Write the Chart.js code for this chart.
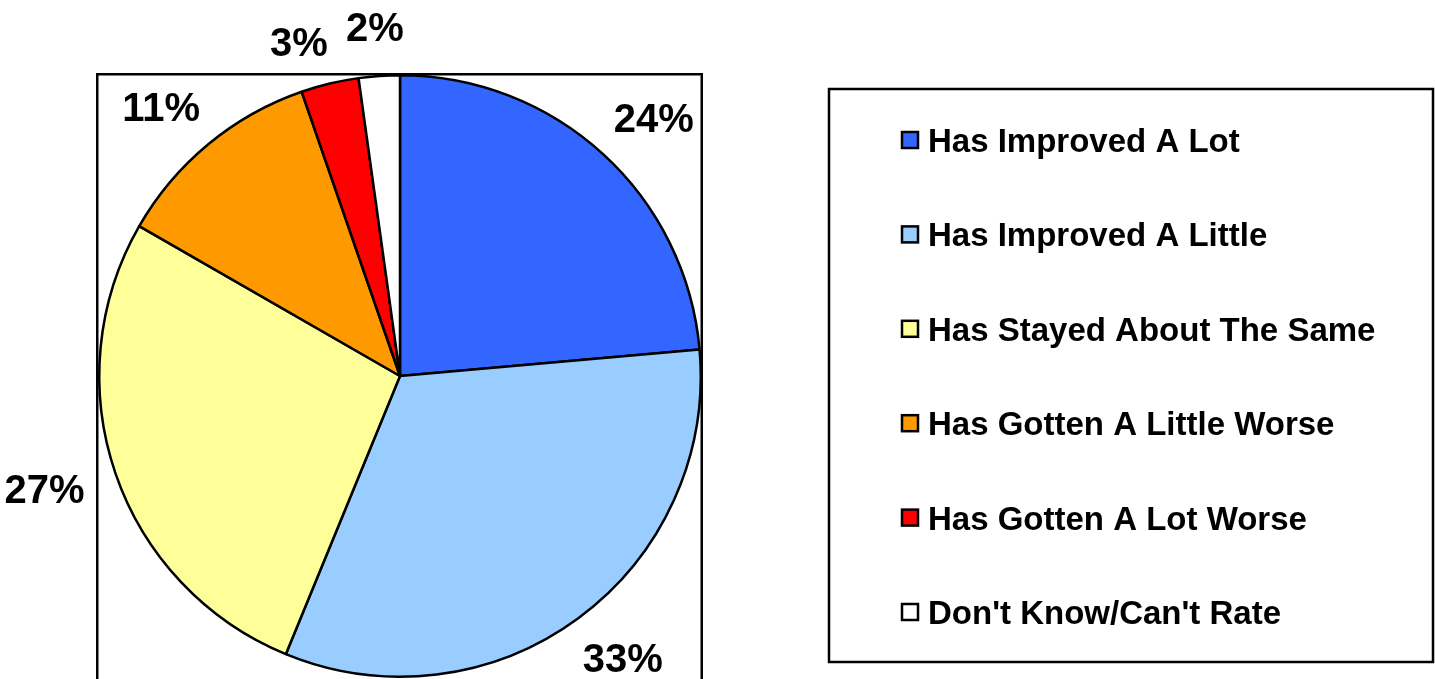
<!DOCTYPE html>
<html>
<head>
<meta charset="utf-8">
<script src="https://cdn.jsdelivr.net/npm/chart.js@4"></script>
<style>
  html, body { margin: 0; padding: 0; background: #ffffff; }
  #wrap { width: 1435px; height: 679px; position: relative; }
</style>
</head>
<body>
<div id="wrap"><canvas id="c" width="1435" height="679"></canvas></div>
<script>
const categories = [
  "Has Improved A Lot",
  "Has Improved A Little",
  "Has Stayed About The Same",
  "Has Gotten A Little Worse",
  "Has Gotten A Lot Worse",
  "Don't Know/Can't Rate"
];
const shares = [23.6, 32.6, 27.1, 11.4, 3.1, 2.2];
const sliceColors = ["#3366FF", "#99CCFF", "#FFFF99", "#FF9900", "#FF0000", "#FFFFFF"];

const FONT = "'Liberation Sans', Arial, sans-serif";

const framePlugin = {
  id: 'frame',
  beforeDatasetsDraw(chart) {
    const ctx = chart.ctx;
    const meta = chart.getDatasetMeta(0);
    const arc = meta.data[0];
    const cx = arc.x, cy = arc.y, r = arc.outerRadius;
    ctx.save();
    ctx.strokeStyle = '#000';
    ctx.lineWidth = 2.5;
    ctx.strokeRect(cx - r - 2, cy - r - 1, 2 * r + 3, 2 * r + 40);
    ctx.restore();
  },
  afterDraw(chart) {
    const ctx = chart.ctx;
    const meta = chart.getDatasetMeta(0);
    ctx.save();
    // percentage labels
    ctx.font = "bold 40px " + FONT;
    ctx.fillStyle = '#000';
    ctx.textAlign = 'center';
    ctx.textBaseline = 'alphabetic';
    const capH = 28;
    const boxes = meta.data.map((arc, i) => {
      const mid = (arc.startAngle + arc.endAngle) / 2;
      const dx = Math.cos(mid), dy = Math.sin(mid);
      const txt = Math.round(shares[i]) + '%';
      const w = ctx.measureText(txt).width;
      const dist = arc.outerRadius + 35;
      return {
        txt, w,
        x: arc.x + dist * dx + dx * w / 2,
        y: arc.y + dist * dy + dy * capH / 2
      };
    });
    // simple collision avoidance: push an earlier label left of the next one
    for (let i = boxes.length - 2; i >= 0; i--) {
      const a = boxes[i], b = boxes[i + 1];
      const vOverlap = Math.abs(a.y - b.y) < capH + 4;
      const gap = 18;
      if (vOverlap && a.x + a.w / 2 > b.x - b.w / 2 - gap && a.x < b.x) {
        a.x = b.x - b.w / 2 - gap - a.w / 2;
        a.y += 6;
      }
    }
    boxes.forEach(b => ctx.fillText(b.txt, b.x, b.y + capH / 2));
    // legend box
    const lx = 829, ly = 89, lw = 604, lh = 573;
    ctx.lineWidth = 2.5;
    ctx.strokeStyle = '#000';
    ctx.strokeRect(lx, ly, lw, lh);
    ctx.font = "bold 33px " + FONT;
    ctx.textAlign = 'left';
    ctx.textBaseline = 'alphabetic';
    const rowStart = 140, rowStep = 94.4;
    categories.forEach((name, i) => {
      const yc = rowStart + i * rowStep;
      ctx.fillStyle = sliceColors[i];
      ctx.fillRect(902, yc - 8, 16, 16);
      ctx.strokeStyle = '#000';
      ctx.lineWidth = 2.5;
      ctx.strokeRect(902, yc - 8, 16, 16);
      ctx.fillStyle = '#000';
      ctx.fillText(name, 928, yc + 12);
    });
    ctx.restore();
  }
};

new Chart(document.getElementById('c'), {
  type: 'pie',
  data: {
    labels: categories,
    datasets: [{
      data: shares,
      backgroundColor: sliceColors,
      borderColor: '#000000',
      borderWidth: 2.5
    }]
  },
  options: {
    responsive: false,
    animation: false,
    layout: { padding: { left: 98, right: 733, top: 74, bottom: 1 } },
    plugins: {
      legend: { display: false },
      tooltip: { enabled: false }
    }
  },
  plugins: [framePlugin]
});
</script>
</body>
</html>
